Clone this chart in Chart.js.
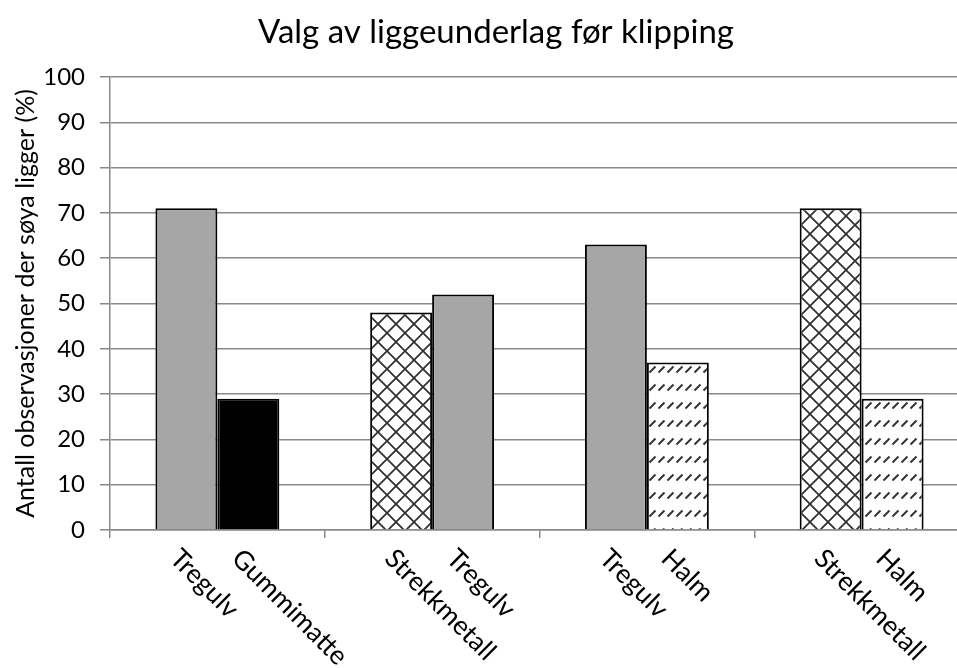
<!DOCTYPE html>
<html><head><meta charset="utf-8">
<script src="https://cdn.jsdelivr.net/npm/chart.js@4.4.0/dist/chart.umd.min.js"></script>
<style>
html,body{margin:0;padding:0;overflow:hidden;background:#fff;width:957px;height:668px}
#wrap{position:absolute;left:0;top:0;width:992px;height:668px}
</style>
</head><body><div id="wrap"><canvas id="c" width="992" height="668"></canvas></div>
<script>
const groups = ['1', '2', '3', '4'];
const leftLabels = ['Tregulv', 'Strekkmetall', 'Tregulv', 'Strekkmetall'];
const rightLabels = ['Gummimatte', 'Tregulv', 'Halm', 'Halm'];
const leftValues = [71, 48, 63, 71];
const rightValues = [29, 52, 37, 29];
const yTicks = [0, 10, 20, 30, 40, 50, 60, 70, 80, 90, 100];
const titleText = 'Valg av liggeunderlag før klipping';
const yTitle = 'Antall observasjoner der søya ligger (%)';

function start() {
  const canvas = document.getElementById('c');
  const ctx = canvas.getContext('2d');

  function crossPattern() {
    const t = document.createElement('canvas'); t.width = 18; t.height = 18;
    const g = t.getContext('2d');
    g.fillStyle = '#fff'; g.fillRect(0, 0, 18, 18);
    g.strokeStyle = '#2e2e2e'; g.lineWidth = 1.7;
    g.beginPath();
    g.moveTo(-3, -3); g.lineTo(21, 21);
    g.moveTo(21, -3); g.lineTo(-3, 21);
    g.stroke();
    return ctx.createPattern(t, 'repeat');
  }
  function dashPattern() {
    const t = document.createElement('canvas'); t.width = 9; t.height = 18;
    const g = t.getContext('2d');
    g.fillStyle = '#fff'; g.fillRect(0, 0, 9, 18);
    g.strokeStyle = '#333'; g.lineWidth = 2;
    g.beginPath();
    g.moveTo(1.5, 12.5); g.lineTo(7.5, 6.5);
    g.stroke();
    return ctx.createPattern(t, 'repeat');
  }
  const fills = {
    'Tregulv': '#a6a6a6',
    'Gummimatte': '#000000',
    'Strekkmetall': crossPattern(),
    'Halm': dashPattern()
  };

  const labelPlugin = {
    id: 'barLabels',
    afterDatasetsDraw(chart) {
      const c = chart.ctx;
      c.save();
      c.fillStyle = '#000';
      c.font = '26.5px Lato';
      c.textAlign = 'left';
      c.textBaseline = 'alphabetic';
      [leftLabels, rightLabels].forEach((labs, di) => {
        chart.getDatasetMeta(di).data.forEach((bar, i) => {
          c.save();
          c.translate(bar.x - 18, chart.chartArea.bottom + 30);
          c.rotate(Math.PI / 4);
          c.fillText(labs[i], 0, 0);
          c.restore();
        });
      });
      c.restore();
    }
  };

  const gridCol = '#898989';
  new Chart(ctx, {
    type: 'bar',
    data: {
      labels: groups,
      datasets: [
        { data: leftValues, backgroundColor: leftLabels.map(l => fills[l]), borderColor: '#000', borderWidth: 2, barPercentage: 1, categoryPercentage: 0.577 },
        { data: rightValues, backgroundColor: rightLabels.map(l => fills[l]), borderColor: '#000', borderWidth: 2, barPercentage: 1, categoryPercentage: 0.577 }
      ]
    },
    options: {
      responsive: false,
      animation: false,
      events: [],
      layout: { padding: { left: 23, right: 23, top: 0, bottom: 0 } },
      plugins: {
        legend: { display: false },
        tooltip: { enabled: false },
        title: {
          display: true, text: titleText, color: '#000',
          font: { family: 'Lato', size: 33, weight: 'normal', lineHeight: 1.2 },
          padding: { top: 13, bottom: 24.4 }
        }
      },
      scales: {
        x: {
          type: 'category', offset: true,
          grid: { offset: true, drawOnChartArea: false, drawTicks: true, tickLength: 8, color: gridCol, lineWidth: 1.5 },
          border: { color: gridCol, width: 1.5 },
          ticks: { display: false },
          afterFit(s) { s.height = 138; }
        },
        y: {
          min: 0, max: 100,
          afterBuildTicks(s) { s.ticks = yTicks.map(v => ({ value: v })); },
          ticks: { color: '#000', font: { family: 'Lato', size: 24 }, padding: 15 },
          grid: { color: gridCol, lineWidth: 1.5, tickLength: 10 },
          border: { color: gridCol, width: 1.5 },
          title: { display: true, text: yTitle, color: '#000', font: { family: 'Lato', size: 25, lineHeight: 1.2 }, padding: { top: -12, bottom: 0 } },
          afterFit(s) { s.width = 87; }
        }
      }
    },
    plugins: [labelPlugin]
  });
}
if (document.fonts && document.fonts.load) {
  Promise.all([document.fonts.load('24px Lato'), document.fonts.load('28px Lato')]).then(start, start);
} else start();
</script>
</body></html>
